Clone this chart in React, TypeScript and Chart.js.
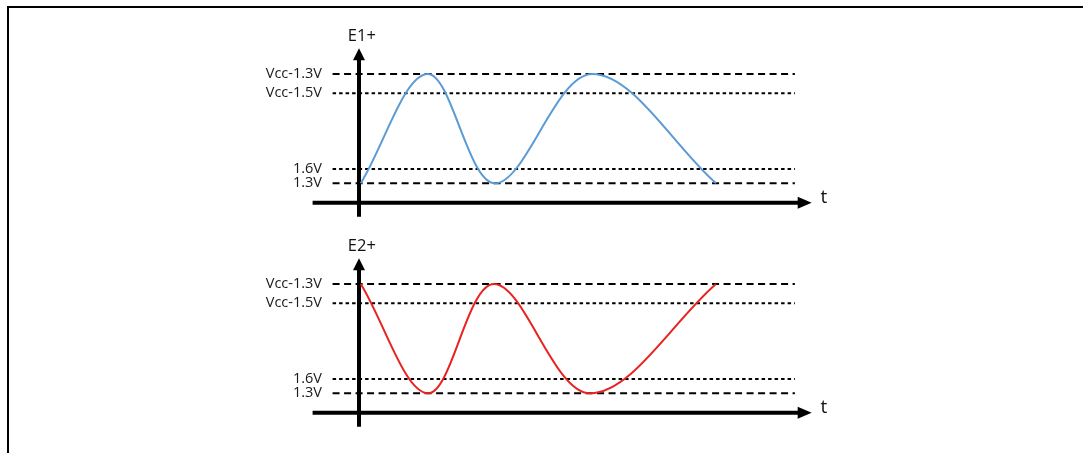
import React, { useEffect, useRef } from "react";
import { Chart, registerables } from "chart.js";

Chart.register(...registerables);

// Reference voltage levels (normalised level units: 1.3V -> 0, Vcc-1.3V -> 1)
const LEVEL_VALUES = [0, 0.131, 0.823, 1.0];
const LEVEL_LABELS = ["1.3V", "1.6V", "Vcc-1.5V", "Vcc-1.3V"];

// E1+ waveform extrema (time units, level units)
const E1_T = [0.05, 1.93, 3.81, 6.53, 10];
const E1_V = [0, 1.0, 0, 1.0, 0];

// E2+ waveform extrema
const E2_T = [0.05, 1.94, 3.78, 6.47, 10];
const E2_V = [1.0, 0, 1.0, 0, 1.0];

// Extent of the reference lines and axes (time / level units)
const REF_START = -0.74;
const REF_END = 12.21;
const T_AXIS_START = -1.3;
const T_AXIS_END = 12.68;
const T_AXIS_LEVEL = -0.1775;
const V_AXIS_BOTTOM = -0.306;
const V_AXIS_TOP = 1.235;

const X_MIN = -0.9244;
const X_MAX = 20.28;
const Y_MIN = -0.3541;
const Y_MAX = 1.5673;
const AXIS_W = 326;
const FONT = '"Open Sans", "Liberation Sans", sans-serif';

const axesPlugin = {
  id: "diagramAxes",
  beforeDatasetsDraw(chart: any) {
    const { ctx } = chart;
    const xs = chart.scales.x;
    const ys = chart.scales.y;
    const name = chart.options.plugins.diagramAxes.name;
    ctx.save();
    ctx.strokeStyle = "#000";
    ctx.fillStyle = "#000";
    ctx.lineWidth = 4;
    ctx.lineCap = "butt";
    // time axis
    const yA = ys.getPixelForValue(T_AXIS_LEVEL);
    const x0 = xs.getPixelForValue(T_AXIS_START);
    const x1 = xs.getPixelForValue(T_AXIS_END);
    ctx.beginPath();
    ctx.moveTo(x0, yA);
    ctx.lineTo(x1 - 10, yA);
    ctx.stroke();
    ctx.beginPath();
    ctx.moveTo(x1, yA);
    ctx.lineTo(x1 - 14, yA - 6);
    ctx.lineTo(x1 - 14, yA + 6);
    ctx.closePath();
    ctx.fill();
    // voltage axis
    const xA = xs.getPixelForValue(0);
    const yb = ys.getPixelForValue(V_AXIS_BOTTOM);
    const yt = ys.getPixelForValue(V_AXIS_TOP);
    ctx.beginPath();
    ctx.moveTo(xA, yb);
    ctx.lineTo(xA, yt + 10);
    ctx.stroke();
    ctx.beginPath();
    ctx.moveTo(xA, yt);
    ctx.lineTo(xA - 6, yt + 12);
    ctx.lineTo(xA + 6, yt + 12);
    ctx.closePath();
    ctx.fill();
    // labels
    ctx.fillStyle = "#111";
    ctx.font = `16.5px ${FONT}`;
    ctx.textAlign = "center";
    ctx.textBaseline = "middle";
    ctx.fillText(name, xs.getPixelForValue(0.08), ys.getPixelForValue(1.341));
    ctx.font = `19px ${FONT}`;
    ctx.textAlign = "left";
    ctx.fillText("t", xs.getPixelForValue(12.93), yA - 5);
    ctx.restore();
  },
};

function Panel({ name, times, values, color, top }: { name: string; times: number[]; values: number[]; color: string; top: number }) {
  const ref = useRef<HTMLCanvasElement | null>(null);
  useEffect(() => {
    if (!ref.current) return;
    const longDash = [7, 4.5];
    const shortDash = [3.5, 3];
    const chart = new Chart(ref.current, {
      type: "line",
      data: {
        datasets: [
          {
            data: times.map((t, i) => ({ x: t, y: values[i] })),
            borderColor: color,
            borderWidth: 2,
            pointRadius: 0,
            tension: 0.35,
            fill: false,
          },
          ...LEVEL_VALUES.map((v, i) => ({
            data: [
              { x: REF_START, y: v },
              { x: REF_END, y: v },
            ],
            borderColor: "#000",
            borderWidth: 2,
            borderDash: i === 0 || i === LEVEL_VALUES.length - 1 ? longDash : shortDash,
            pointRadius: 0,
            fill: false,
          })),
        ],
      },
      options: {
        responsive: false,
        animation: false,
        events: [],
        layout: { padding: 0 },
        plugins: {
          legend: { display: false },
          tooltip: { enabled: false },
          title: { display: false },
          diagramAxes: { name },
        } as any,
        scales: {
          x: { type: "linear", display: false, min: X_MIN, max: X_MAX, bounds: "data" },
          y: {
            type: "linear",
            position: "left",
            min: Y_MIN,
            max: Y_MAX,
            bounds: "data",
            grid: { display: false, drawTicks: false },
            border: { display: false },
            afterBuildTicks: (s: any) => {
              s.ticks = LEVEL_VALUES.map((v) => ({ value: v }));
            },
            afterFit: (s: any) => {
              s.width = AXIS_W;
              s.paddingTop = 0;
              s.paddingBottom = 0;
            },
            ticks: {
              autoSkip: false,
              padding: 4,
              color: "#1a1a1a",
              font: { family: FONT, size: 14.5 },
              callback: (v: any) => LEVEL_LABELS[LEVEL_VALUES.indexOf(Number(v))] ?? "",
            },
          },
        },
      } as any,
      plugins: [axesPlugin],
    });
    return () => chart.destroy();
  }, [name, times, values, color]);
  return (
    <canvas
      ref={ref}
      width={1083}
      height={210}
      style={{ position: "absolute", left: 0, top, width: 1083, height: 210, display: "block" }}
    />
  );
}

export default function App() {
  return (
    <div style={{ position: "absolute", left: 0, top: 0, width: 1083, height: 453, overflow: "hidden", background: "#fff" }}>
      <div
        style={{
          position: "absolute",
          left: 7,
          top: 6,
          width: 1200,
          height: 600,
          borderLeft: "2px solid #000",
          borderTop: "2px solid #000",
        }}
      />
      <Panel name="E1+" times={E1_T} values={E1_V} color="#5b9bd5" top={12} />
      <Panel name="E2+" times={E2_T} values={E2_V} color="#e8231f" top={222} />
    </div>
  );
}
